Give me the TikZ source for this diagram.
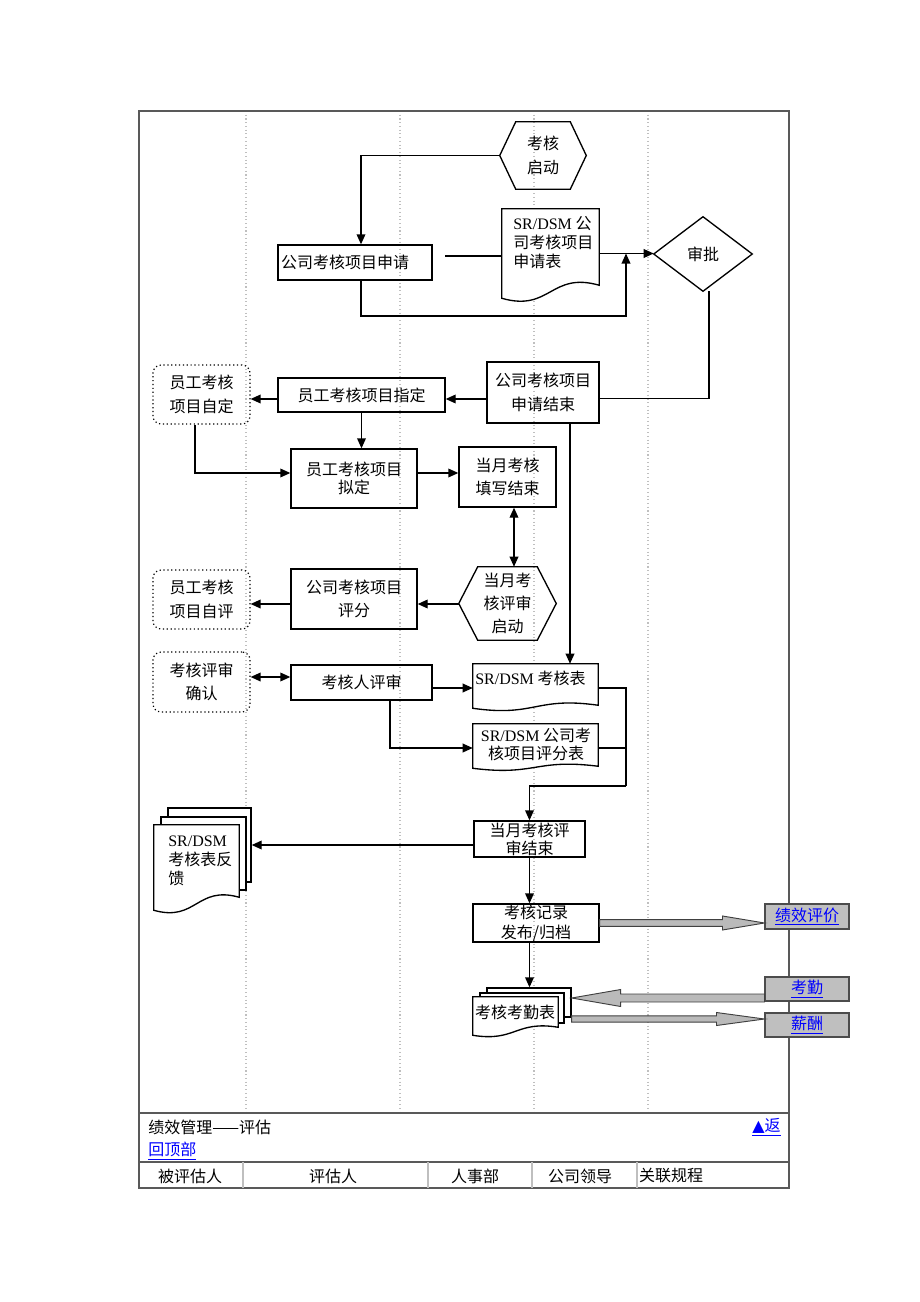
\documentclass[tikz,border=0pt]{standalone}
\usepackage{fontspec}
\setmainfont{Noto Sans CJK SC}
\newfontfamily\latf{Liberation Serif}
\newfontfamily\symf{DejaVu Sans}
\usetikzlibrary{calc,arrows.meta}
\definecolor{linkblue}{RGB}{0,0,255}
\newcommand\SR{{\latf SR/DSM}}
\newcommand\lnk[1]{\textcolor{linkblue}{\underline{#1}}}
\newcommand\docout[3]{\draw[ln,fill=white] (#1.south west) -- (#1.north west) -- (#1.north east) -- ($(#1.south east)+(0,-#2)$) .. controls ($(#1.south)+(0,-#2-#3)$) and ($(#1.south)+(0,#3)$) .. (#1.south west) -- cycle;}
\newcommand\hexout[2]{\draw[ln] (#1.west) -- ($(#1.north west)+(#2,0)$) -- ($(#1.north east)+(-#2,0)$) -- (#1.east) -- ($(#1.south east)+(-#2,0)$) -- ($(#1.south west)+(#2,0)$) -- cycle;}
\newcommand\blockarr[5]{\draw[blk] ($(#1)+(0,-#4)$) -- ($(#2)+(#3,-#4)$) -- ($(#2)+(#3,-#5)$) -- (#2) -- ($(#2)+(#3,#5)$) -- ($(#2)+(#3,#4)$) -- ($(#1)+(0,#4)$) -- cycle;}
\begin{document}
\begin{tikzpicture}[x=0.75pt,y=-0.75pt,
 every node/.style={font=\fontsize{12}{17.5}\selectfont, inner sep=0pt, align=center},
 corners/.style n args={4}{at={({(#1+#3)/2},{(#2+#4)/2})}, minimum width={(#3-#1)*0.75pt}, minimum height={(#4-#2)*0.75pt}},
 box/.style={draw, line width=1pt},
 dbox/.style={draw, dotted, line width=0.9pt, rounded corners=6pt},
 ln/.style={line width=1pt},
 arr/.style={ln, -{Triangle[length=7.5pt,width=6.5pt]}},
 darr/.style={ln, {Triangle[length=7.5pt,width=6.5pt]}-{Triangle[length=7.5pt,width=6.5pt]}},
 lane/.style={draw=black!25, dotted, line width=0.8pt},
 frm/.style={draw=black!65, line width=0.9pt},
 linkbox/.style={draw=black!70, fill=black!25, line width=0.8pt},
 blk/.style={draw=black!75, fill=black!27, line width=0.7pt},
 tsp/.style={font=\fontsize{12}{13.5}\selectfont},
 msp/.style={font=\fontsize{12}{14.3}\selectfont},
 ssp/.style={font=\fontsize{12}{15}\selectfont}]
\useasboundingbox (0,0) rectangle (920,1302);
% lanes and frame
\foreach \x in {246,400,534,648} \draw[lane] (\x,111) -- (\x,1113);
\draw[frm] (139,111) rectangle (789,1188);
\draw[frm] (139,1113) -- (789,1113);
\draw[frm] (139,1162) -- (789,1162);
\foreach \x in {243,428,532,637} \draw[draw=black!25, line width=0.8pt] (\x,1162) -- (\x,1188);
% footer texts
\node[anchor=west] (ft1) at (148,1127) {绩效管理——评估};
\node[anchor=east] (ft2) at (781,1127) {\lnk{{\symf ▲}返}};
\node[anchor=west] (ft3) at (148,1151) {\lnk{回顶部}};
\node (h1) at (190,1176) {被评估人};
\node (h2) at (333,1176) {评估人};
\node (h3) at (475,1176) {人事部};
\node (h4) at (580,1176) {公司领导};
\node (h5) at (671,1176) {关联规程};
% nodes
\node[corners={500}{122}{586}{189}] (start) {考核\\启动};
\hexout{start}{16}
\node[box, corners={278}{245}{432}{280}, text width={148*0.75pt}, align=left] (apply) {公司考核项目申请};
\node[corners={502}{209}{599}{298}] (appform) {};
\docout{appform}{13}{14}
\node[anchor=west, msp, align=left] (appformT) at (513,243) {\SR{} 公\\司考核项目\\申请表};
\node[corners={654}{217}{752}{291}] (approve) {审批};
\draw[ln] (approve.west) -- (approve.north) -- (approve.east) -- (approve.south) -- cycle;
\node[box, corners={487}{362}{599}{423}] (end1) {公司考核项目\\申请结束};
\node[box, corners={278}{378}{445}{412}] (assign) {员工考核项目指定};
\node[dbox, corners={153}{365}{250}{424}] (selfdef) {员工考核\\项目自定};
\node[box, corners={291}{449}{417}{508}, tsp] (draft) {员工考核项目\\拟定};
\node[box, corners={459}{447}{556}{507}] (fillend) {当月考核\\填写结束};
\node[corners={459}{567}{556}{640}] (revstart) {当月考\\核评审\\启动};
\hexout{revstart}{19}
\node[box, corners={291}{569}{417}{629}] (score) {公司考核项目\\评分};
\node[dbox, corners={153}{570}{250}{629}] (selfeval) {员工考核\\项目自评};
\node[dbox, corners={153}{652}{250}{712}] (confirm) {考核评审\\确认};
\node[box, corners={291}{665}{432}{700}] (reviewer) {考核人评审};
\node[corners={473}{664}{598}{708}] (rev1) {};
\docout{rev1}{3}{9}
\node[anchor=west, align=left] (rev1T) at (475,678) {\SR{} 考核表};
\node[corners={473}{724}{598}{768}] (rev2) {};
\docout{rev2}{2}{8}
\node[tsp] (rev2T) at (536,744) {\SR{} 公司考\\核项目评分表};
\node[box, corners={474}{821}{585}{857}, tsp] (revend) {当月考核评\\审结束};
\node[box, fill=white, corners={168}{808}{251}{882}] (fb3) {};
\node[box, fill=white, corners={161}{817}{246}{890}] (fb2) {};
\node[corners={154}{825}{239}{910}] (feedback) {};
\docout{feedback}{13}{12}
\node[anchor=west, msp, align=left] (feedbackT) at (168,861) {\SR\\考核表反\\馈};
\node[box, corners={473}{904}{599}{942}, ssp] (publish) {考核记录\\发布/归档};
\node[box, fill=white, corners={487}{988}{571}{1017}] (at3) {};
\node[box, fill=white, corners={480}{993}{564}{1023}] (at2) {};
\node[corners={473}{997}{558}{1035}] (attend) {};
\docout{attend}{8}{7}
\node (attendT) at (515,1012) {考核考勤表};
\node[linkbox, corners={765}{904}{849}{929}] (perf) {\lnk{绩效评价}};
\node[linkbox, corners={765}{977}{849}{1001}] (kq) {\lnk{考勤}};
\node[linkbox, corners={765}{1013}{849}{1037}] (pay) {\lnk{薪酬}};
% level coordinates
\coordinate (g1) at (445,256);
\coordinate (c1) at (626,316);
\coordinate (yA) at (0,399);
\coordinate (xB) at (570,0);
\coordinate (yC) at (0,473);
\coordinate (xD) at (514,0);
\coordinate (yE) at (0,604);
\coordinate (yF) at (0,677);
\coordinate (yG) at (0,688);
\coordinate (xH) at (390,0);
\coordinate (yI) at (0,748);
\coordinate (c2) at (626,786);
\coordinate (yJ) at (0,845);
\coordinate (yK) at (0,923);
\coordinate (yL) at (0,998);
\coordinate (yM) at (0,1019);
% connectors
\draw[arr] (start.west) -| ($(apply.north)+(6,0)$);
\draw[ln] (g1) -- (g1 -| appform.west);
\draw[arr] (appform.east) -- (appform.east -| approve.west);
\draw[arr] ($(apply.south)+(6,0)$) |- (c1) -- (c1 |- appform.east);
\draw[ln] ($(approve.south)+(6,0)$) |- ($(end1.east)+(0,6)$);
\draw[arr] (end1.west |- yA) -- (assign.east |- yA);
\draw[arr] (assign.west |- yA) -- (selfdef.east |- yA);
\draw[arr] (end1.south -| xB) -- (rev1.north -| xB);
\draw[arr] (assign.south) -- (assign.south |- draft.north);
\draw[arr] ($(selfdef.south)+(-6.5,0)$) |- (draft.west |- yC);
\draw[arr] (draft.east |- yC) -- (fillend.west |- yC);
\draw[darr] (fillend.south -| xD) -- (revstart.north -| xD);
\draw[arr] (revstart.west |- yE) -- (score.east |- yE);
\draw[arr] (score.west |- yE) -- (selfeval.east |- yE);
\draw[darr] (confirm.east |- yF) -- (reviewer.west |- yF);
\draw[arr] (reviewer.east |- yG) -- (rev1.west |- yG);
\draw[arr] (reviewer.south -| xH) |- (rev2.west |- yI);
\draw[ln] (rev1.east |- yG) -| (c2);
\draw[ln] (rev2.east |- yI) -- (c2 |- yI);
\draw[arr] (c2) -| (revend.north);
\draw[arr] (revend.west |- yJ) -- (fb3.east |- yJ);
\draw[arr] (revend.south) -- (revend.south |- publish.north);
\draw[arr] (revend.south |- publish.south) -- (revend.south |- at3.north);
\blockarr{publish.east |- yK}{perf.west |- yK}{-42}{3.3}{7}
\blockarr{kq.west |- yL}{at3.east |- yL}{49}{4}{8.5}
\blockarr{at3.east |- yM}{pay.west |- yM}{-48}{3.2}{6.5}
\end{tikzpicture}
\end{document}
